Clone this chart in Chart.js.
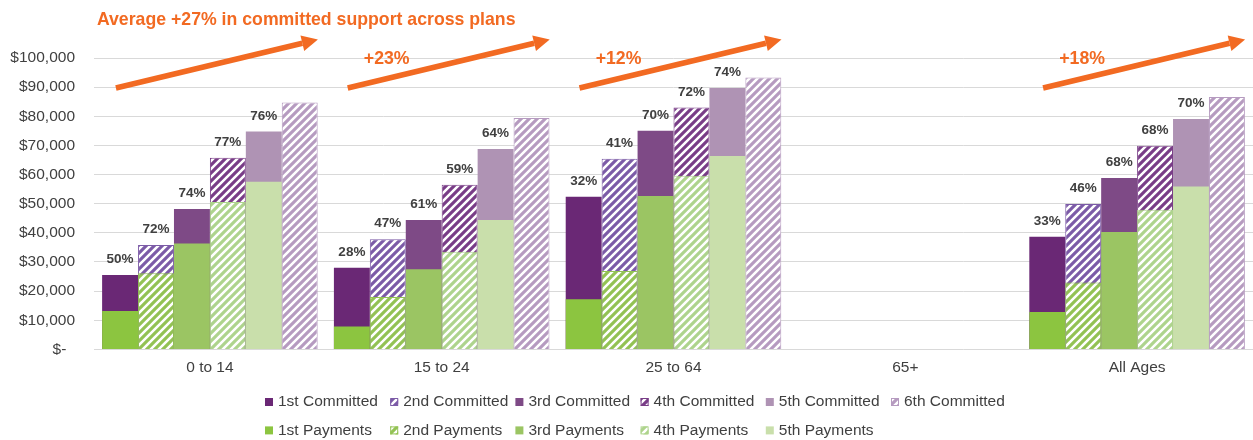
<!DOCTYPE html>
<html>
<head>
<meta charset="utf-8">
<title>Committed support and payments by age group</title>
<script src="https://cdn.jsdelivr.net/npm/chart.js@4.4.1/dist/chart.umd.min.js"></script>
<style>
    html, body { margin: 0; padding: 0; background: #fff; overflow: hidden; }
    #wrap { width: 1253px; height: 440px; }
</style>
</head>
<body>
<div id="wrap"><canvas id="supportChart"></canvas></div>
<script>
const ageGroups = ['0 to 14', '15 to 24', '25 to 64', '65+', 'All Ages'];

// committed support per plan (top of each column)
const committed1 = [25500, 28000, 52400, null, 38700];
const committed2 = [35800, 37800, 65400, null, 49900];
const committed3 = [48200, 44400, 75000, null, 58800];
const committed4 = [65800, 56500, 83000, null, 69900];
const committed5 = [74800, 68800, 89700, null, 79100];
const committed6 = [84700, 79400, 93300, null, 86600];

// payments made per plan (lower part of each column)
const payments1 = [13200, 7900, 17200, null, 12800];
const payments2 = [26100, 18000, 26900, null, 23000];
const payments3 = [36300, 27500, 52600, null, 40300];
const payments4 = [50600, 33500, 59600, null, 47900];
const payments5 = [57500, 44400, 66400, null, 55900];

// % of committed that was paid, printed over columns 1-5
const paidShare1 = [50, 28, 32, null, 33];
const paidShare2 = [72, 47, 41, null, 46];
const paidShare3 = [74, 61, 70, null, 68];
const paidShare4 = [77, 59, 72, null, 68];
const paidShare5 = [76, 64, 74, null, 70];

const trendLabels = ['Average +27% in committed support across plans', '+23%', '+12%', null, '+18%'];

const yMin = 0;
const yMax = 100000;
const yStep = 10000;

const FONT = '"Liberation Sans", Arial, sans-serif';
const TEXT = '#404040';
const ORANGE = '#F26A22';

function hatch(color) {
    const tile = document.createElement('canvas');
    tile.width = 8;
    tile.height = 8;
    const c = tile.getContext('2d');
    c.fillStyle = '#ffffff';
    c.fillRect(0, 0, 8, 8);
    c.strokeStyle = color;
    c.lineWidth = 3.1;
    c.beginPath();
    c.moveTo(-2, 2); c.lineTo(2, -2);
    c.moveTo(-1, 9); c.lineTo(9, -1);
    c.moveTo(6, 10); c.lineTo(10, 6);
    c.stroke();
    return c.createPattern(tile, 'repeat');
}

const solid = (label, data, color, stack) => ({
    label, data, stack, backgroundColor: color, borderColor: color, borderWidth: 0
});
const striped = (label, data, color, stack) => ({
    label, data, stack, backgroundColor: hatch(color), borderColor: color, borderWidth: 1
});

// payments first so they are drawn over the committed columns
const datasets = [
    solid('1st Payments', payments1, '#8CC540', 'p1'),
    striped('2nd Payments', payments2, '#93C254', 'p2'),
    solid('3rd Payments', payments3, '#9BC563', 'p3'),
    striped('4th Payments', payments4, '#AED48D', 'p4'),
    solid('5th Payments', payments5, '#C9DFAB', 'p5'),
    solid('1st Committed', committed1, '#6A2875', 'p1'),
    striped('2nd Committed', committed2, '#7C5BA7', 'p2'),
    solid('3rd Committed', committed3, '#7E4A86', 'p3'),
    striped('4th Committed', committed4, '#793D87', 'p4'),
    solid('5th Committed', committed5, '#AF93B4', 'p5'),
    striped('6th Committed', committed6, '#B69BC0', 'p6')
];
const paymentIdx = [0, 1, 2, 3, 4];
const committedIdx = [5, 6, 7, 8, 9, 10];
const paidShares = [paidShare1, paidShare2, paidShare3, paidShare4, paidShare5];

const paidShareLabels = {
    id: 'paidShareLabels',
    afterDatasetsDraw(chart) {
        const ctx = chart.ctx;
        ctx.save();
        ctx.font = 'bold 13.5px ' + FONT;
        ctx.fillStyle = TEXT;
        ctx.textAlign = 'center';
        ctx.textBaseline = 'middle';
        paidShares.forEach((shares, k) => {
            const meta = chart.getDatasetMeta(committedIdx[k]);
            shares.forEach((v, i) => {
                if (v == null) return;
                const el = meta.data[i];
                ctx.fillText(v + '%', el.x, el.y - 15.5);
            });
        });
        ctx.restore();
    }
};

const trendArrows = {
    id: 'trendArrows',
    afterDraw(chart) {
        const { ctx, chartArea } = chart;
        const xs = chart.scales.x;
        ctx.save();
        ctx.strokeStyle = ORANGE;
        ctx.fillStyle = ORANGE;
        trendLabels.forEach((text, i) => {
            if (!text) return;
            const c = xs.getPixelForValue(i);
            const x0 = c - 94, y0 = chartArea.top + 30;
            const x1 = c + 108, y1 = chartArea.top - 18.5;
            const ang = Math.atan2(y1 - y0, x1 - x0);
            const headLen = 16, headHalf = 8;
            const bx = x1 - headLen * Math.cos(ang);
            const by = y1 - headLen * Math.sin(ang);
            ctx.lineWidth = 5.5;
            ctx.lineCap = 'butt';
            ctx.beginPath();
            ctx.moveTo(x0, y0);
            ctx.lineTo(bx, by);
            ctx.stroke();
            ctx.beginPath();
            ctx.moveTo(x1, y1);
            ctx.lineTo(bx + headHalf * Math.sin(ang), by - headHalf * Math.cos(ang));
            ctx.lineTo(bx - headHalf * Math.sin(ang), by + headHalf * Math.cos(ang));
            ctx.closePath();
            ctx.fill();

            ctx.font = 'bold 17.7px ' + FONT;
            ctx.textBaseline = 'middle';
            if (i === 0) {
                ctx.textAlign = 'left';
                ctx.fillText(text, c - 113, chartArea.top - 37.5);
            } else {
                ctx.textAlign = 'center';
                ctx.fillText(text, c - 55, chartArea.top + 1);
            }
        });
        ctx.restore();
    }
};

// legend laid out as a grid: committed on the first row, payments on the second
const gridLegend = {
    id: 'gridLegend',
    afterDraw(chart) {
        const ctx = chart.ctx;
        const left = chart.chartArea.left + 171;
        const top = chart.height - 38;
        ctx.save();
        ctx.font = '15.5px ' + FONT;
        ctx.textAlign = 'left';
        ctx.textBaseline = 'middle';
        [committedIdx, paymentIdx].forEach((row, r) => {
            const y = top + r * 28.4;
            row.forEach((di, j) => {
                const ds = chart.data.datasets[di];
                const x = left + j * 125.2;
                ctx.fillStyle = ds.backgroundColor;
                ctx.fillRect(x, y - 4, 8, 8);
                if (ds.borderWidth) {
                    ctx.strokeStyle = ds.borderColor;
                    ctx.lineWidth = 1;
                    ctx.strokeRect(x + 0.5, y - 3.5, 7, 7);
                }
                ctx.fillStyle = TEXT;
                ctx.fillText(ds.label, x + 13, y);
            });
        });
        ctx.restore();
    }
};

new Chart(document.getElementById('supportChart'), {
    type: 'bar',
    data: { labels: ageGroups, datasets },
    options: {
        responsive: true,
        maintainAspectRatio: false,
        animation: false,
        devicePixelRatio: 1,
        layout: { padding: { left: 9, right: 0, top: 58, bottom: 54 } },
        datasets: { bar: { categoryPercentage: 0.93, barPercentage: 1.0 } },
        plugins: {
            legend: { display: false },
            tooltip: { enabled: false }
        },
        scales: {
            x: {
                stacked: true,
                grid: { display: false, drawTicks: false },
                border: { display: false },
                ticks: { color: TEXT, padding: 9, font: { family: FONT, size: 15.5 } }
            },
            y: {
                stacked: false,
                min: yMin,
                max: yMax,
                grid: { color: '#D9D9D9', lineWidth: 1, drawTicks: false },
                border: { display: false },
                afterFit: scale => { scale.width = 85; },
                ticks: {
                    stepSize: yStep,
                    color: TEXT,
                    padding: 19,
                    font: { family: FONT, size: 15.5 },
                    callback: v => v === 0 ? '$-  ' : '$' + v.toLocaleString('en-US')
                }
            }
        }
    },
    plugins: [paidShareLabels, trendArrows, gridLegend]
});
</script>
</body>
</html>
